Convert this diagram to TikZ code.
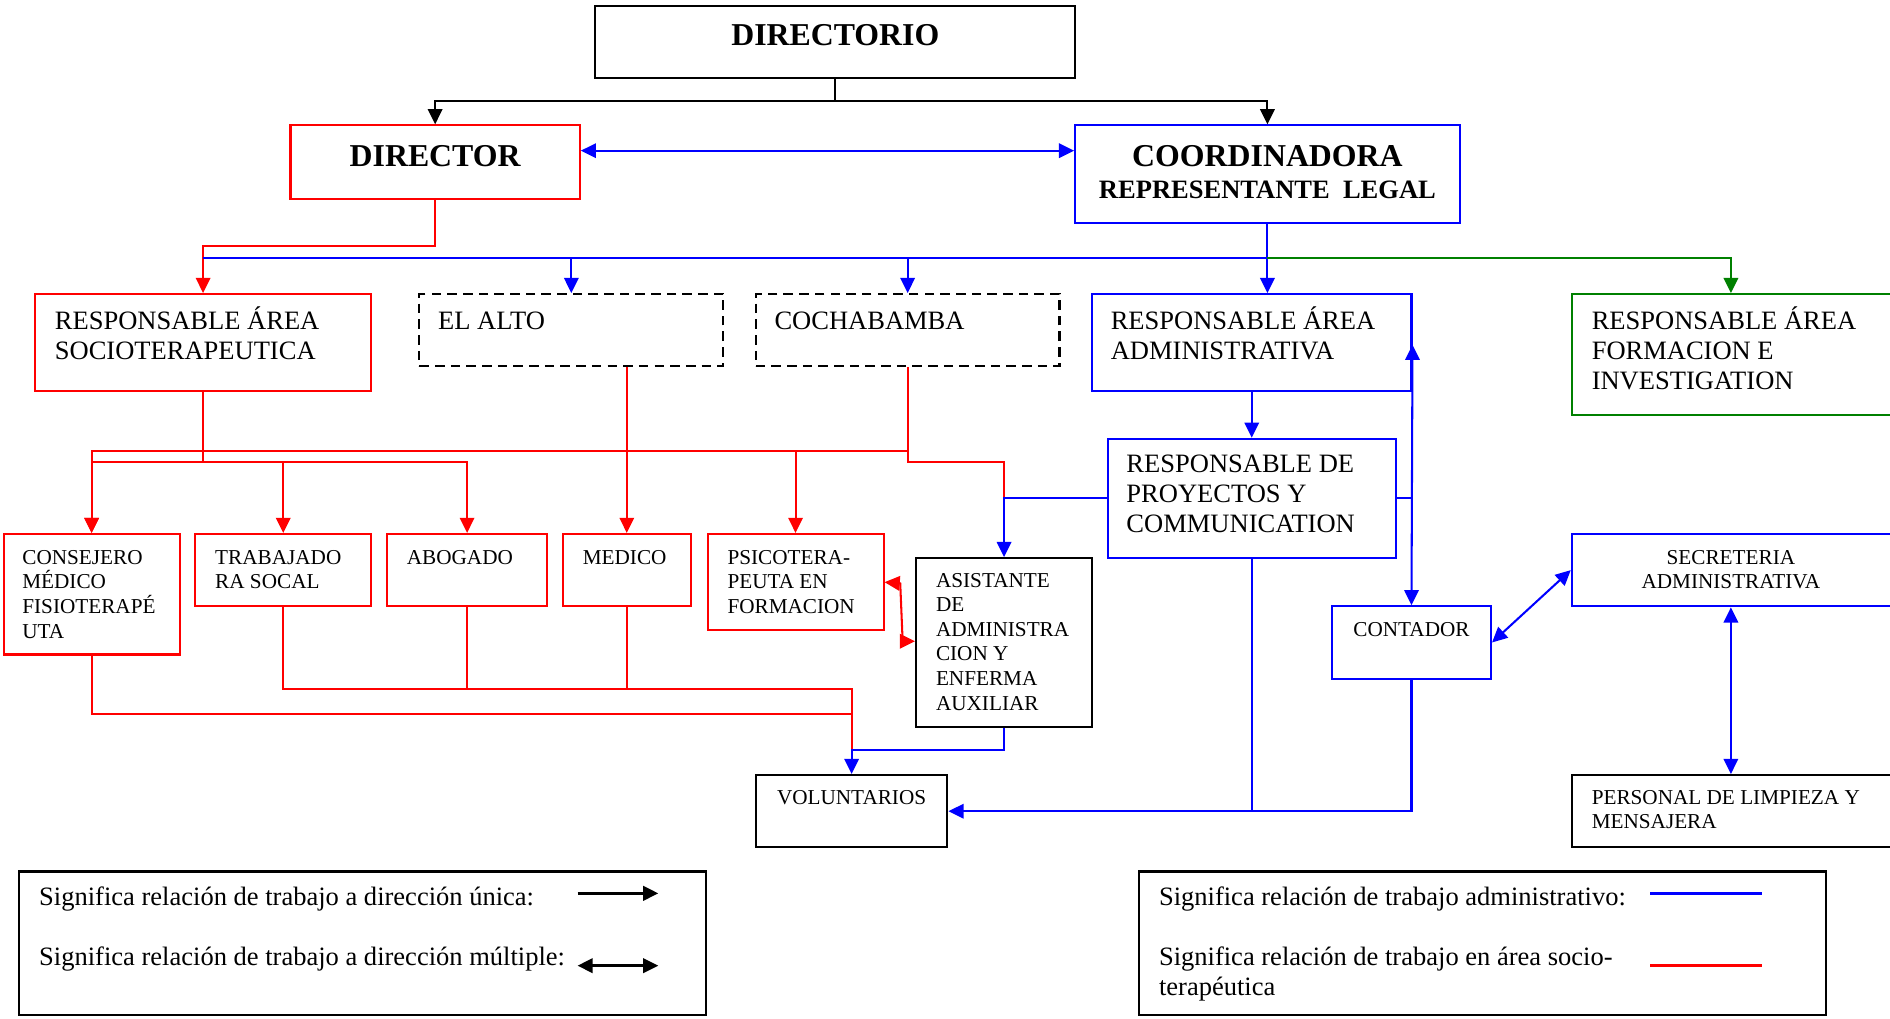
\documentclass[tikz,border=0pt]{standalone}
\usepackage{fontspec}
\setmainfont{Liberation Serif}
\usetikzlibrary{arrows.meta,fit}

\tikzset{
  punta/.style={-{Triangle[length=6.3pt,width=6pt]}},
  dpunta/.style={{Triangle[length=6.3pt,width=6pt]}-{Triangle[length=6.3pt,width=6pt]}},
  caja/.style={draw=#1, line width=0.85pt, inner sep=0pt},
  cajad/.style={draw=black, line width=0.85pt, inner sep=0pt, dash pattern=on 4pt off 2.5pt},
  linea/.style={draw=#1, line width=0.85pt},
  txt/.style={inner sep=0pt, anchor=base west, text width=150pt, align=flush left, font=\fontsize{11}{12.5}\selectfont},
  txtp/.style={inner sep=0pt, anchor=base west, text width=150pt, align=flush left, font=\fontsize{8.8}{10.2}\selectfont},
  txtb/.style={inner sep=0pt, anchor=base, font=\fontsize{13.2}{15}\selectfont\bfseries},
}
\colorlet{verde}{green!50!black}

\begin{document}
\begin{tikzpicture}[x=0.5pt,y=-0.5pt]
    \useasboundingbox (0,0) rectangle (1568,845);

    % Dibuja las cajas
    \node[caja=black, fit={(494,5) (892,65)}] (dirio) {};
    \node[caja=red, fit={(241,104) (481,165)}] (director) {};
    \node[caja=blue, fit={(892,104) (1211,185)}] (coord) {};
    \node[caja=red, fit={(29,244) (308,324)}] (socio) {};
    \node[cajad, fit={(348,244) (600,304)}] (alto) {};
    \node[cajad, fit={(627,244) (879,304)}] (cocha) {};
    \node[caja=blue, fit={(906,244) (1171,324)}] (admin) {};
    \node[caja=verde, fit={(1304,244) (1574,344)}] (forma) {};
    \node[caja=blue, fit={(919,364) (1158,463)}] (proy) {};
    \node[caja=red, fit={(3,443) (149,543)}] (conse) {};
    \node[caja=red, fit={(162,443) (308,503)}] (traba) {};
    \node[caja=red, fit={(321,443) (454,503)}] (aboga) {};
    \node[caja=red, fit={(467,443) (573,503)}] (medico) {};
    \node[caja=red, fit={(587,443) (733,523)}] (psico) {};
    \node[caja=black, fit={(760,463) (906,603)}] (asist) {};
    \node[caja=blue, fit={(1105,503) (1237,563)}] (conta) {};
    \node[caja=blue, fit={(1304,443) (1574,503)}] (secre) {};
    \node[caja=black, fit={(1304,643) (1574,703)}] (perso) {};
    \node[caja=black, fit={(627,643) (786,703)}] (volun) {};

    % Dibuja los textos
    \node[txtb] (dirioT) at ([yshift=-17pt]dirio.north) {DIRECTORIO};
    \node[txtb] (directorT) at ([yshift=-17.5pt]director.north) {DIRECTOR};
    \node[txtb] (coordT) at ([yshift=-17.5pt]coord.north) {COORDINADORA};
    \node[txtb, font=\fontsize{11}{13}\selectfont\bfseries] (coordL) at ([yshift=-30.75pt]coord.north) {REPRESENTANTE\ \ LEGAL};
    \node[txt] (socioT) at ([xshift=8.5pt,yshift=-15pt]socio.north west) {RESPONSABLE ÁREA\\SOCIOTERAPEUTICA};
    \node[txt] (altoT) at ([xshift=8pt,yshift=-15pt]alto.north west) {EL ALTO};
    \node[txt] (cochaT) at ([xshift=8pt,yshift=-15pt]cocha.north west) {COCHABAMBA};
    \node[txt] (adminT) at ([xshift=8pt,yshift=-15pt]admin.north west) {RESPONSABLE ÁREA\\ADMINISTRATIVA};
    \node[txt] (formaT) at ([xshift=8.5pt,yshift=-15pt]forma.north west) {RESPONSABLE ÁREA\\FORMACION E\\INVESTIGATION};
    \node[txt] (proyT) at ([xshift=8pt,yshift=-14.5pt]proy.north west) {RESPONSABLE DE\\PROYECTOS Y\\COMMUNICATION};
    \node[txtp] (conseT) at ([xshift=8pt,yshift=-13pt]conse.north west) {CONSEJERO\\MÉDICO\\FISIOTERAPÉ\\UTA};
    \node[txtp] (trabaT) at ([xshift=8.5pt,yshift=-13pt]traba.north west) {TRABAJADO\\RA SOCAL};
    \node[txtp] (abogaT) at ([xshift=8.5pt,yshift=-13pt]aboga.north west) {ABOGADO};
    \node[txtp] (medicoT) at ([xshift=8.5pt,yshift=-13pt]medico.north west) {MEDICO};
    \node[txtp] (psicoT) at ([xshift=8.5pt,yshift=-13pt]psico.north west) {PSICOTERA-\\PEUTA EN\\FORMACION};
    \node[txtp] (asistT) at ([xshift=8.5pt,yshift=-12.5pt]asist.north west) {ASISTANTE\\DE\\ADMINISTRA\\CION Y\\ENFERMA\\AUXILIAR};
    \node[txtp, anchor=base, align=flush center] (contaT) at ([yshift=-13pt]conta.north) {CONTADOR};
    \node[txtp, anchor=base, align=flush center] (secreT) at ([xshift=-1.5pt,yshift=-13pt]secre.north) {SECRETERIA\\ADMINISTRATIVA};
    \node[txtp] (persoT) at ([xshift=8.5pt,yshift=-12.5pt]perso.north west) {PERSONAL DE LIMPIEZA Y\\MENSAJERA};
    \node[txtp, anchor=base, align=flush center] (volunT) at ([yshift=-12.5pt]volun.north) {VOLUNTARIOS};

    % Niveles de las lineas
    \coordinate (busN) at (0,84);
    \coordinate (busDC) at (0,125);
    \coordinate (busR) at (0,204);
    \coordinate (busA) at (0,214);
    \coordinate (busC) at (0,374);
    \coordinate (busS) at (0,383);
    \coordinate (busAs) at (0,413);
    \coordinate (busP1) at (0,483);
    \coordinate (busP2) at (0,532);
    \coordinate (busV1) at (0,572);
    \coordinate (busV2) at (0,592);
    \coordinate (busV3) at (0,622);
    \coordinate (busAd) at (0,286);

    % Dibuja las conexiones de arriba
    \draw[linea=black, punta] (dirio.south) |- (director.north |- busN) -- (director.north);
    \draw[linea=black, punta] (dirio.south) |- (coord.north |- busN) -- (coord.north);
    \draw[linea=blue, dpunta] (director.east |- busDC) -- (coord.west |- busDC);
    \draw[linea=red, punta] (director.south) |- (socio.north |- busR) -- (socio.north);
    \draw[linea=blue, line width=1.1pt] (coord.south |- busA) -- (socio.north |- busA);
    \draw[linea=blue, punta] (alto.north |- busA) -- (alto.north);
    \draw[linea=blue, punta] (cocha.north |- busA) -- (cocha.north);
    \draw[linea=blue, punta] (coord.south) -- (coord.south |- admin.north);
    \draw[linea=verde, punta] (coord.south |- busA) -| ([xshift=-1.5pt]forma.north);

    % Dibuja las conexiones del area socioterapeutica
    \draw[linea=red, punta] (socio.south) |- (aboga.north |- busS) -- (aboga.north);
    \draw[linea=red, punta] (socio.south |- busS) -| (conse.north);
    \draw[linea=red, punta] (traba.north |- busS) -- (traba.north);
    \draw[linea=red, punta] (cocha.south) |- (conse.north |- busC) -- (conse.north);
    \draw[linea=red, punta] (psico.north |- busC) -- (psico.north);
    \draw[linea=red, punta] (medico.north |- alto.south) -- (medico.north);
    \draw[linea=red] (cocha.south |- busC) |- (asist.north |- busS) -- (asist.north |- busAs);
    \draw[linea=blue, punta] (proy.west) -| (asist.north);
    \draw[linea=red, dpunta] (psico.east |- busP1) -- ++(13,1) -- ++(2,48) -- (asist.west |- busP2);
    \draw[linea=red] (traba.south) |- (volun.north |- busV1) -- (volun.north |- busV3);
    \draw[linea=red] (aboga.south) -- (aboga.south |- busV1);
    \draw[linea=red] (medico.south) -- (medico.south |- busV1);
    \draw[linea=red] (conse.south) |- (volun.north |- busV2);
    \draw[linea=blue, punta] (asist.south) |- (volun.north |- busV3) -- (volun.north);

    % Dibuja las conexiones administrativas
    \draw[linea=blue, punta] (admin.south) -- (proy.north);
    \draw[linea=blue, dpunta] (admin.east |- busAd) -- (conta.north);
    \draw[linea=blue] (proy.east) -- (proy.east -| conta.north);
    \draw[linea=blue] (proy.south) -- (proy.south |- volun.east);
    \draw[linea=blue, punta] (conta.south) |- (volun.east);
    \draw[linea=blue, dpunta] (conta.east) -- (secre.west);
    \draw[linea=blue, dpunta] ([xshift=-1.5pt]secre.south) -- ([xshift=-1.5pt]perso.north);

    % Dibuja la leyenda
    \node[caja=black, fit={(16,723) (586,842)}] (leyI) {};
    \node[caja=black, fit={(945,723) (1515,842)}] (leyD) {};
    \node[txt, text width=280pt] (leyI1) at ([xshift=8.5pt,yshift=-14.5pt]leyI.north west) {Significa relación de trabajo a dirección única:};
    \node[txt, text width=280pt] (leyI2) at ([xshift=8.5pt,yshift=-39.5pt]leyI.north west) {Significa relación de trabajo a dirección múltiple:};
    \node[txt, text width=280pt] (leyD1) at ([xshift=8.5pt,yshift=-14.5pt]leyD.north west) {Significa relación de trabajo administrativo:};
    \node[txt, text width=280pt] (leyD2) at ([xshift=8.5pt,yshift=-39.5pt]leyD.north west) {Significa relación de trabajo en área socio-\\terapéutica};
    \draw[linea=black, line width=1.1pt, punta] ([xshift=232pt,yshift=-9.5pt]leyI.north west) -- ++(67,0);
    \draw[linea=black, line width=1.1pt, dpunta] ([xshift=232pt,yshift=-39.5pt]leyI.north west) -- ++(67,0);
    \draw[linea=blue, line width=1.1pt] ([xshift=212.5pt,yshift=-9.5pt]leyD.north west) -- ++(93,0);
    \draw[linea=red, line width=1.1pt] ([xshift=212.5pt,yshift=-39.5pt]leyD.north west) -- ++(93,0);
\end{tikzpicture}
\end{document}
